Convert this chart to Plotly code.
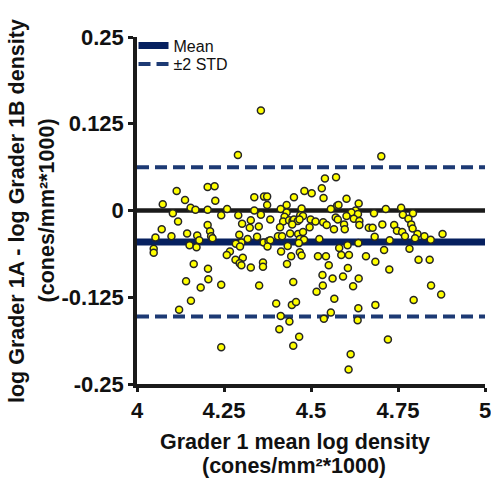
import plotly.graph_objects as go

# Grader 1 mean log density (x) and difference 1A - 1B (y)
mean_log_density = [
    4.114, 4.074, 4.203, 4.223, 4.138, 4.225, 4.337, 4.154, 4.168, 4.203,
    4.259, 4.337, 4.103, 4.242, 4.291, 4.118, 4.327, 4.203, 4.302, 4.324,
    4.071, 4.210, 4.144, 4.053, 4.099, 4.173, 4.213, 4.217, 4.179, 4.294,
    4.318, 4.345, 4.300, 4.284, 4.048, 4.048, 4.151, 4.171, 4.296, 4.267,
    4.258, 4.304, 4.356, 4.290,
    4.283, 4.295, 4.300, 4.327, 4.163, 4.204, 4.141, 4.205, 4.183, 4.242,
    4.351, 4.155, 4.121, 4.242,
    4.540, 4.572, 4.481, 4.502, 4.531, 4.365, 4.374, 4.451, 4.536, 4.602,
    4.374, 4.430, 4.575, 4.579, 4.637, 4.413, 4.473, 4.557, 4.628, 4.616,
    4.356, 4.430, 4.424, 4.469, 4.477, 4.602, 4.571, 4.635, 4.383, 4.420,
    4.437, 4.447, 4.451, 4.462, 4.467, 4.499, 4.513, 4.535, 4.545, 4.577,
    4.595, 4.623, 4.639, 4.639, 4.350, 4.411, 4.446, 4.496, 4.566, 4.597,
    4.666, 4.405, 4.417, 4.440, 4.463, 4.477, 4.364, 4.378, 4.383, 4.375,
    4.468, 4.480, 4.465, 4.524, 4.433, 4.468, 4.414, 4.443, 4.473, 4.520,
    4.543, 4.581, 4.605, 4.636, 4.587, 4.609, 4.658,
    4.362, 4.362, 4.431, 4.551, 4.606, 4.533, 4.562, 4.592, 4.637, 4.449,
    4.534, 4.621, 4.516, 4.567, 4.400, 4.445, 4.457, 4.636, 4.557, 4.413,
    4.537, 4.438, 4.634, 4.409, 4.466, 4.449, 4.614, 4.608,
    4.702, 4.715, 4.759, 4.793, 4.681, 4.764, 4.780, 4.788, 4.792, 4.677,
    4.705, 4.739, 4.747, 4.762, 4.770, 4.806, 4.799, 4.826, 4.844, 4.878,
    4.683, 4.726, 4.783, 4.710,
    4.685, 4.809, 4.841, 4.725, 4.845, 4.874, 4.795, 4.685, 4.721,
]
log_difference = [
    0.028, 0.009, 0.034, 0.035, 0.015, 0.014, 0.019, 0.004, 0.001, 0.001,
    0.002, 0.000, -0.004, -0.007, -0.007, -0.016, -0.014, -0.021, -0.019, -0.025,
    -0.027, -0.030, -0.033, -0.039, -0.037, -0.036, -0.037, -0.040, -0.043, -0.035,
    -0.041, -0.038, -0.046, -0.048, -0.055, -0.061, -0.050, -0.053, -0.052, -0.059,
    -0.064, -0.068, 0.144, 0.080,
    -0.071, -0.076, -0.079, -0.082, -0.077, -0.084, -0.102, -0.099, -0.111, -0.107,
    -0.108, -0.130, -0.143, -0.197,
    0.046, 0.048, 0.028, 0.025, 0.032, 0.020, 0.020, 0.019, 0.018, 0.017,
    0.008, 0.008, 0.007, 0.008, 0.010, 0.002, 0.003, 0.002, 0.000, -0.003,
    -0.006, -0.003, -0.009, -0.007, -0.008, -0.008, -0.010, -0.005, -0.013, -0.016,
    -0.014, -0.015, -0.013, -0.015, -0.013, -0.013, -0.016, -0.017, -0.021, -0.013,
    -0.020, -0.012, -0.015, -0.021, -0.023, -0.024, -0.020, -0.024, -0.027, -0.027,
    -0.025, -0.037, -0.037, -0.033, -0.034, -0.031, -0.046, -0.044, -0.043, -0.052,
    -0.041, -0.042, -0.047, -0.041, -0.051, -0.060, -0.059, -0.066, -0.065, -0.066,
    -0.066, -0.054, -0.050, -0.047, -0.064, -0.064, -0.066,
    -0.075, -0.081, -0.077, -0.079, -0.083, -0.093, -0.098, -0.095, -0.098, -0.103,
    -0.108, -0.109, -0.117, -0.127, -0.134, -0.136, -0.132, -0.141, -0.147, -0.152,
    -0.156, -0.160, -0.158, -0.171, -0.182, -0.195, -0.207, -0.229,
    0.078, 0.002, 0.004, -0.004, -0.004, -0.006, -0.012, -0.020, -0.026, -0.025,
    -0.020, -0.021, -0.029, -0.031, -0.037, -0.034, -0.040, -0.037, -0.042, -0.034,
    -0.038, -0.043, -0.055, -0.057,
    -0.074, -0.071, -0.071, -0.085, -0.108, -0.121, -0.129, -0.136, -0.186,
]

mean_diff = -0.0453
std_diff = 0.0538
x_range = [4, 5]
y_range = [-0.25, 0.25]
x_ticks = [4, 4.25, 4.5, 4.75, 5]
x_ticklabels = ["4", "4.25", "4.5", "4.75", "5"]
y_ticks = [-0.25, -0.125, 0, 0.125, 0.25]
y_ticklabels = ["-0.25", "-0.125", "0", "0.125", "0.25"]

upper = mean_diff + 2 * std_diff
lower = mean_diff - 2 * std_diff

fig = go.Figure()
fig.add_trace(go.Scatter(x=x_range, y=[0, 0], mode="lines",
                         line=dict(color="#1a1a1a", width=4.5),
                         showlegend=False, hoverinfo="skip"))
fig.add_trace(go.Scatter(x=x_range, y=[mean_diff, mean_diff], mode="lines",
                         name="Mean", legend="legend",
                         line=dict(color="#06205f", width=7)))
fig.add_trace(go.Scatter(x=[x_range[0], x_range[1], None, x_range[0], x_range[1]],
                         y=[upper, upper, None, lower, lower], mode="lines",
                         name="±2 STD", legend="legend2",
                         line=dict(color="#1d3a74", width=4, dash="12px,6px")))
fig.add_trace(go.Scatter(x=mean_log_density, y=log_difference, mode="markers",
                         showlegend=False,
                         marker=dict(color="#ffff00", size=7,
                                     line=dict(color="#262626", width=1.5))))

L, R, T, B = 136.5, 5.5, 37.3, 93.7
W, H = 491, 478
pw = W - L - R
ph = H - T - B

tickfont = dict(family="Liberation Sans, Arial, sans-serif", size=22,
                color="#111111", weight="bold")
titlefont = dict(family="Liberation Sans, Arial, sans-serif", size=21.5,
                 color="#111111", weight="bold")
legendfont = dict(family="Liberation Sans, Arial, sans-serif", size=16,
                  color="#111111")


def px_to_paper_x(px):
    return (px - L) / pw


def py_to_paper_y(py):
    return (H - B - py) / ph


fig.update_layout(
    width=W, height=H,
    margin=dict(l=L, r=R, t=T, b=B, autoexpand=False),
    paper_bgcolor="white", plot_bgcolor="white",
    font=dict(family="Liberation Sans, Arial, sans-serif", color="#111111"),
    xaxis=dict(range=x_range, tickvals=x_ticks, ticktext=x_ticklabels,
               showgrid=False, zeroline=False, showline=True,
               linecolor="#1a1a1a", linewidth=3.5, ticks="outside",
               ticklen=4, tickwidth=3, tickcolor="#1a1a1a",
               ticklabeloverflow="allow", tickfont=tickfont),
    yaxis=dict(range=y_range, tickvals=y_ticks, ticktext=y_ticklabels,
               showgrid=False, zeroline=False, showline=True,
               linecolor="#1a1a1a", linewidth=3.5, ticks="outside",
               ticklen=5, tickwidth=3, tickcolor="#1a1a1a",
               ticklabeloverflow="allow", tickfont=tickfont),
    legend=dict(x=px_to_paper_x(133), y=py_to_paper_y(29), xanchor="left",
                yanchor="top", bgcolor="rgba(0,0,0,0)", itemwidth=30,
                font=legendfont),
    legend2=dict(x=px_to_paper_x(133), y=py_to_paper_y(47.5), xanchor="left",
                 yanchor="top", bgcolor="rgba(0,0,0,0)", itemwidth=30,
                 font=legendfont),
    showlegend=True,
)

annotations = [
    dict(text="Grader 1 mean log density", x=px_to_paper_x(294.5), y=py_to_paper_y(442),
         textangle=0),
    dict(text="(cones/mm²*1000)", x=px_to_paper_x(293.5), y=py_to_paper_y(466),
         textangle=0),
    dict(text="log Grader 1A - log Grader 1B density", x=px_to_paper_x(16),
         y=py_to_paper_y(211.5), textangle=-90),
    dict(text="(cones/mm²*1000)", x=px_to_paper_x(46), y=py_to_paper_y(211),
         textangle=-90),
]
for a in annotations:
    fig.add_annotation(xref="paper", yref="paper", showarrow=False,
                       xanchor="center", yanchor="middle", font=titlefont, **a)

fig.write_html("out.html")
